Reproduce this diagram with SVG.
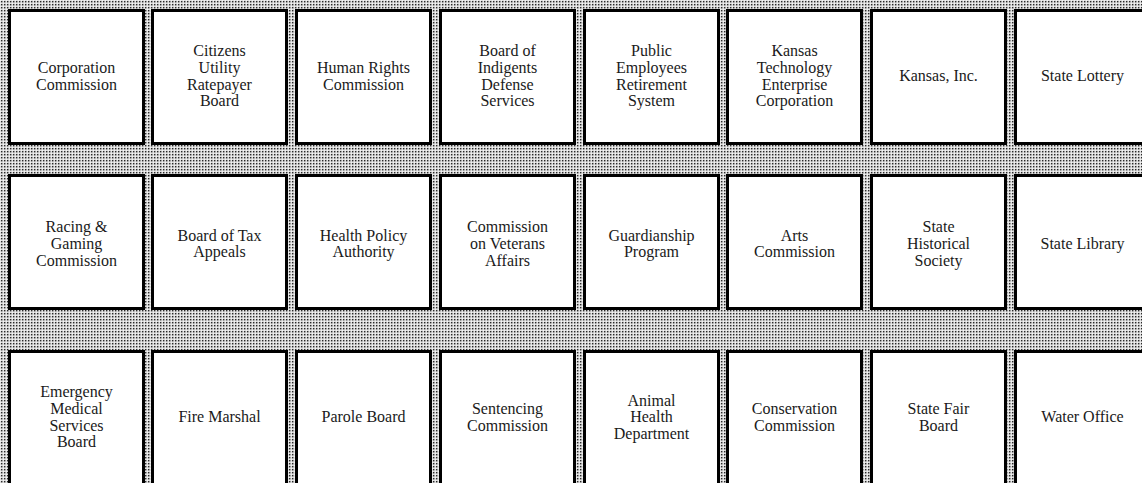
<svg xmlns="http://www.w3.org/2000/svg" width="1142" height="483" viewBox="0 0 1142 483">
  <defs>
    <!-- fine stipple texture for the backdrop -->
    <pattern id="stipple" width="3" height="3" patternUnits="userSpaceOnUse">
      <rect width="3" height="3" fill="#dedede"/>
      <rect x="1" y="1" width="1.4" height="1.4" fill="#2a2a2a"/>
      <rect x="0" y="0" width="0.8" height="0.8" fill="#ffffff"/>
    </pattern>
    <style>
      .box { fill: #ffffff; stroke: #000000; stroke-width: 3; }
      .lbl { font-family: "Liberation Serif", "Times New Roman", serif; font-size: 16px; fill: #1a1a1a; text-anchor: middle; }
    </style>
  </defs>

  <rect x="0" y="0" width="1142" height="483" fill="url(#stipple)"/>

  <!-- Row 1 -->
  <g id="corporation-commission">
    <rect class="box" x="9.5" y="10.5" width="134" height="133"/>
    <text class="lbl" y="73"><tspan x="76.5">Corporation</tspan><tspan x="76.5" dy="16.7">Commission</tspan></text>
  </g>
  <g id="citizens-utility-ratepayer-board">
    <rect class="box" x="152.5" y="10.5" width="134" height="133"/>
    <text class="lbl" y="56.2"><tspan x="219.5">Citizens</tspan><tspan x="219.5" dy="16.7">Utility</tspan><tspan x="219.5" dy="16.7">Ratepayer</tspan><tspan x="219.5" dy="16.7">Board</tspan></text>
  </g>
  <g id="human-rights-commission">
    <rect class="box" x="296.5" y="10.5" width="134" height="133"/>
    <text class="lbl" y="73"><tspan x="363.5">Human Rights</tspan><tspan x="363.5" dy="16.7">Commission</tspan></text>
  </g>
  <g id="board-of-indigents-defense-services">
    <rect class="box" x="440.5" y="10.5" width="134" height="133"/>
    <text class="lbl" y="56.2"><tspan x="507.5">Board of</tspan><tspan x="507.5" dy="16.7">Indigents</tspan><tspan x="507.5" dy="16.7">Defense</tspan><tspan x="507.5" dy="16.7">Services</tspan></text>
  </g>
  <g id="public-employees-retirement-system">
    <rect class="box" x="584.5" y="10.5" width="134" height="133"/>
    <text class="lbl" y="56.2"><tspan x="651.5">Public</tspan><tspan x="651.5" dy="16.7">Employees</tspan><tspan x="651.5" dy="16.7">Retirement</tspan><tspan x="651.5" dy="16.7">System</tspan></text>
  </g>
  <g id="kansas-technology-enterprise-corporation">
    <rect class="box" x="727.5" y="10.5" width="134" height="133"/>
    <text class="lbl" y="56.2"><tspan x="794.5">Kansas</tspan><tspan x="794.5" dy="16.7">Technology</tspan><tspan x="794.5" dy="16.7">Enterprise</tspan><tspan x="794.5" dy="16.7">Corporation</tspan></text>
  </g>
  <g id="kansas-inc">
    <rect class="box" x="871.5" y="10.5" width="134" height="133"/>
    <text class="lbl" x="938.5" y="81.3">Kansas, Inc.</text>
  </g>
  <g id="state-lottery">
    <rect class="box" x="1015.5" y="10.5" width="134" height="133"/>
    <text class="lbl" x="1082.5" y="81.3">State Lottery</text>
  </g>

  <!-- Row 2 -->
  <g id="racing-gaming-commission">
    <rect class="box" x="9.5" y="175.5" width="134" height="133"/>
    <text class="lbl" y="232.1"><tspan x="76.5">Racing &amp;</tspan><tspan x="76.5" dy="16.7">Gaming</tspan><tspan x="76.5" dy="16.7">Commission</tspan></text>
  </g>
  <g id="board-of-tax-appeals">
    <rect class="box" x="152.5" y="175.5" width="134" height="133"/>
    <text class="lbl" y="240.5"><tspan x="219.5">Board of Tax</tspan><tspan x="219.5" dy="16.7">Appeals</tspan></text>
  </g>
  <g id="health-policy-authority">
    <rect class="box" x="296.5" y="175.5" width="134" height="133"/>
    <text class="lbl" y="240.5"><tspan x="363.5">Health Policy</tspan><tspan x="363.5" dy="16.7">Authority</tspan></text>
  </g>
  <g id="commission-on-veterans-affairs">
    <rect class="box" x="440.5" y="175.5" width="134" height="133"/>
    <text class="lbl" y="232.1"><tspan x="507.5">Commission</tspan><tspan x="507.5" dy="16.7">on Veterans</tspan><tspan x="507.5" dy="16.7">Affairs</tspan></text>
  </g>
  <g id="guardianship-program">
    <rect class="box" x="584.5" y="175.5" width="134" height="133"/>
    <text class="lbl" y="240.5"><tspan x="651.5">Guardianship</tspan><tspan x="651.5" dy="16.7">Program</tspan></text>
  </g>
  <g id="arts-commission">
    <rect class="box" x="727.5" y="175.5" width="134" height="133"/>
    <text class="lbl" y="240.5"><tspan x="794.5">Arts</tspan><tspan x="794.5" dy="16.7">Commission</tspan></text>
  </g>
  <g id="state-historical-society">
    <rect class="box" x="871.5" y="175.5" width="134" height="133"/>
    <text class="lbl" y="232.1"><tspan x="938.5">State</tspan><tspan x="938.5" dy="16.7">Historical</tspan><tspan x="938.5" dy="16.7">Society</tspan></text>
  </g>
  <g id="state-library">
    <rect class="box" x="1015.5" y="175.5" width="134" height="133"/>
    <text class="lbl" x="1082.5" y="248.8">State Library</text>
  </g>

  <!-- Row 3 -->
  <g id="emergency-medical-services-board">
    <rect class="box" x="9.5" y="351.5" width="134" height="134"/>
    <text class="lbl" y="397.3"><tspan x="76.5">Emergency</tspan><tspan x="76.5" dy="16.7">Medical</tspan><tspan x="76.5" dy="16.7">Services</tspan><tspan x="76.5" dy="16.7">Board</tspan></text>
  </g>
  <g id="fire-marshal">
    <rect class="box" x="152.5" y="351.5" width="134" height="134"/>
    <text class="lbl" x="219.5" y="422.3">Fire Marshal</text>
  </g>
  <g id="parole-board">
    <rect class="box" x="296.5" y="351.5" width="134" height="134"/>
    <text class="lbl" x="363.5" y="422.3">Parole Board</text>
  </g>
  <g id="sentencing-commission">
    <rect class="box" x="440.5" y="351.5" width="134" height="134"/>
    <text class="lbl" y="414"><tspan x="507.5">Sentencing</tspan><tspan x="507.5" dy="16.7">Commission</tspan></text>
  </g>
  <g id="animal-health-department">
    <rect class="box" x="584.5" y="351.5" width="134" height="134"/>
    <text class="lbl" y="405.6"><tspan x="651.5">Animal</tspan><tspan x="651.5" dy="16.7">Health</tspan><tspan x="651.5" dy="16.7">Department</tspan></text>
  </g>
  <g id="conservation-commission">
    <rect class="box" x="727.5" y="351.5" width="134" height="134"/>
    <text class="lbl" y="414"><tspan x="794.5">Conservation</tspan><tspan x="794.5" dy="16.7">Commission</tspan></text>
  </g>
  <g id="state-fair-board">
    <rect class="box" x="871.5" y="351.5" width="134" height="134"/>
    <text class="lbl" y="414"><tspan x="938.5">State Fair</tspan><tspan x="938.5" dy="16.7">Board</tspan></text>
  </g>
  <g id="water-office">
    <rect class="box" x="1015.5" y="351.5" width="134" height="134"/>
    <text class="lbl" x="1082.5" y="422.3">Water Office</text>
  </g>

  <!-- no connectors between these units -->
  <g id="connectors"/>
</svg>
